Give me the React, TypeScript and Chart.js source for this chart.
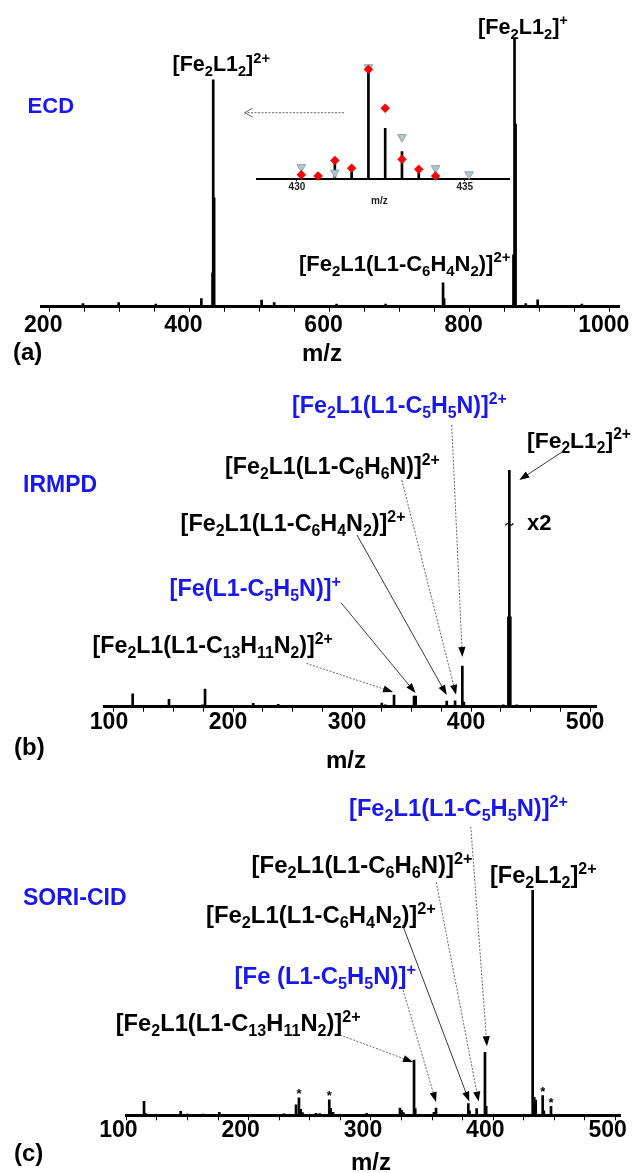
import React, { useEffect, useRef } from 'react';
import { Chart, registerables } from 'chart.js';

Chart.register(...registerables);

const W = 633;
const H = 1173;
const FONT = '"Liberation Sans", Arial, Helvetica, sans-serif';
const BLUE = '#1818ee';
const BLACK = '#000000';
Chart.defaults.font.family = FONT;

// ---------------- (a) ECD spectrum ----------------
const ecdMz = [248, 299, 352, 417, 433, 434, 435.3, 503, 521, 610, 680, 762, 763.5, 862.5, 864, 865.5, 880, 897, 960];
const ecdInt = [1.2, 1.5, 1.0, 3.0, 12.6, 84.4, 40.5, 2.5, 1.5, 1.0, 1.0, 8.9, 3.0, 19.3, 100, 68, 1.2, 2.6, 1.0];

// inset: isotope pattern of [Fe2L1_2]2+
const insetMz = [430.63, 431.13, 431.63, 432.13, 432.63, 433.13, 433.63, 434.13];
const insetInt = [1, 17, 11, 100, 46, 25, 6, 3];
const insetDiamondMz = [430.13, 430.63, 431.13, 431.63, 432.13, 432.63, 433.13, 433.63, 434.13];
const insetDiamondInt = [4, 3, 17, 10, 99, 64, 18, 9, 3];
const insetTriangleMz = [430.13, 431.13, 432.13, 433.13, 434.13, 435.13];
const insetTriangleInt = [11, 6, 101, 38, 10, 4.5];

// ---------------- (b) IRMPD spectrum ----------------
const irmpdMz = [95, 115.7, 131, 146.2, 160, 174.5, 176.5, 197, 217, 238, 264, 290, 323, 325, 328, 335.3, 340, 344, 352.1, 353.5, 368, 379.6, 386.6, 392.7, 394, 410, 420, 427, 431.4, 432.2, 433.0, 438.4, 455, 478, 497];
const irmpdInt = [0.5, 5.4, 0.5, 3.1, 0.4, 0.8, 7.4, 0.4, 1.4, 1.0, 0.4, 0.4, 0.6, 1.5, 0.8, 4.9, 0.6, 0.6, 4.5, 4.5, 0.5, 2.4, 2.5, 17.2, 2.0, 0.4, 0.4, 0.8, 38, 100, 38, 0.8, 0.4, 0.4, 0.5];
const irmpdBreakInt = 77;

// ---------------- (c) SORI-CID spectrum ----------------
const soriMz = [114.4, 115.8, 144.4, 150, 163, 176, 229, 238.7, 241.1, 242.5, 244, 255, 258, 265.9, 267, 269, 296.5, 310, 323.7, 325, 326.5, 335.2, 336.2, 351.5, 353.2, 379.6, 380.6, 386.4, 393.2, 394.2, 432.2, 433.5, 434.7, 440.4, 441.4, 447.2];
const soriInt = [6.2, 0.8, 1.8, 0.5, 0.5, 1.3, 0.6, 4.7, 7.7, 2.7, 1.2, 0.9, 0.8, 6.9, 3.1, 1.3, 0.9, 0.4, 3.2, 2.2, 1.2, 24.5, 3, 1.3, 3.2, 5.2, 2, 3.0, 28, 4, 100, 8, 6.8, 8.7, 2, 4.0];
const soriStarMz = [241.1, 265.9, 440.4, 447.2];

// ---------------- annotation layout ----------------
type Label = { text: string; x: number; y: number; w?: number; size?: number; color?: string };
type Arrow = { mz?: number; to?: [number, number]; from: [number, number]; dx?: number; dy?: number; dash: boolean; open?: boolean };

const ecdLabels: Label[] = [
  { text: 'ECD', x: 27.6, y: 113, size: 22, color: BLUE },
  { text: '[Fe_{2}L1_{2}]^{2+}', x: 172.5, y: 70.5, w: 97.5 },
  { text: '[Fe_{2}L1_{2}]^{+}', x: 478, y: 33.5, w: 90 },
  { text: '[Fe_{2}L1(L1-C_{6}H_{4}N_{2})]^{2+}', x: 299, y: 270.5, w: 211.6 },
  { text: '(a)', x: 13, y: 360, size: 24 },
  { text: 'm/z', x: 302, y: 361, size: 24 },
];
const ecdArrows: Arrow[] = [{ from: [344, 112.7], to: [244.7, 112.7], dash: true, open: true }];
const insetLabels: Label[] = [{ text: 'm/z', x: 371, y: 203.5, size: 10, color: '#222' }];

const irmpdLabels: Label[] = [
  { text: 'IRMPD', x: 23, y: 492, size: 23, color: BLUE },
  { text: '[Fe_{2}L1(L1-C_{5}H_{5}N)]^{2+}', x: 292, y: 412.5, w: 215, color: BLUE },
  { text: '[Fe_{2}L1(L1-C_{6}H_{6}N)]^{2+}', x: 225, y: 473.5, w: 215 },
  { text: '[Fe_{2}L1_{2}]^{2+}', x: 527, y: 447.5, w: 104 },
  { text: 'x2', x: 527, y: 530, size: 22 },
  { text: '[Fe_{2}L1(L1-C_{6}H_{4}N_{2})]^{2+}', x: 180.6, y: 530.5, w: 225 },
  { text: '[Fe(L1-C_{5}H_{5}N)]^{+}', x: 169.6, y: 595.5, w: 171.4, color: BLUE },
  { text: '[Fe_{2}L1(L1-C_{13}H_{11}N_{2})]^{2+}', x: 92.5, y: 652.5, w: 240.5 },
  { text: '(b)', x: 14, y: 755, size: 24 },
  { text: 'm/z', x: 326, y: 768, size: 24 },
];
const irmpdArrows: Arrow[] = [
  { mz: 335.3, from: [306.4, 663.3], dx: -1, dy: -3, dash: true },
  { mz: 352.1, from: [341, 602.7], dx: 1.5, dy: -3, dash: false },
  { mz: 379.6, from: [357, 535], dx: 0, dy: -6, dash: false },
  { mz: 386.6, from: [401.8, 480], dx: 1, dy: -6, dash: true },
  { mz: 392.7, from: [451.7, 425], dx: 0, dy: -9, dash: true },
  { mz: 432.2, from: [562, 452], dx: 10, dy: 10, dash: false },
];

const soriLabels: Label[] = [
  { text: 'SORI-CID', x: 23, y: 905, size: 23, color: BLUE },
  { text: '[Fe_{2}L1(L1-C_{5}H_{5}N)]^{2+}', x: 349, y: 815.5, w: 219, color: BLUE },
  { text: '[Fe_{2}L1(L1-C_{6}H_{6}N)]^{2+}', x: 251.6, y: 872.5, w: 221 },
  { text: '[Fe_{2}L1_{2}]^{2+}', x: 490, y: 882.5, w: 106.6 },
  { text: '[Fe_{2}L1(L1-C_{6}H_{4}N_{2})]^{2+}', x: 206, y: 922.5, w: 230 },
  { text: '[Fe (L1-C_{5}H_{5}N)]^{+}', x: 234.6, y: 983.5, w: 181.4, color: BLUE },
  { text: '[Fe_{2}L1(L1-C_{13}H_{11}N_{2})]^{2+}', x: 115.7, y: 1030.5, w: 245 },
  { text: '(c)', x: 14, y: 1161, size: 24 },
  { text: 'm/z', x: 351, y: 1170, size: 24 },
];
const soriArrows: Arrow[] = [
  { mz: 393.2, from: [470.8, 826.7], dx: 2, dy: -6, dash: true },
  { mz: 386.4, from: [436.3, 882.3], dx: 2, dy: -7, dash: true },
  { mz: 379.6, from: [402.6, 925], dx: 1, dy: -2, dash: false },
  { mz: 353.2, from: [403, 990], dx: 0, dy: -6, dash: true },
  { mz: 335.2, from: [340, 1035], dx: -1, dy: 2, dash: true },
];

// ---------------- helpers ----------------
type Seg = { t: string; k: number };
const SUBSCALE = 0.68;
const bold = (s: number) => `bold ${s}px ${FONT}`;

function parseRich(s: string): Seg[] {
  const out: Seg[] = [];
  let buf = '';
  let i = 0;
  while (i < s.length) {
    const c = s[i];
    if ((c === '_' || c === '^') && s[i + 1] === '{') {
      if (buf) { out.push({ t: buf, k: 0 }); buf = ''; }
      const end = s.indexOf('}', i);
      out.push({ t: s.slice(i + 2, end), k: c === '_' ? 1 : 2 });
      i = end + 1;
    } else {
      buf += c;
      i++;
    }
  }
  if (buf) out.push({ t: buf, k: 0 });
  return out;
}

function richWidth(ctx: CanvasRenderingContext2D, segs: Seg[], size: number) {
  let w = 0;
  for (const s of segs) {
    ctx.font = bold(s.k ? size * SUBSCALE : size);
    w += ctx.measureText(s.t).width;
  }
  return w;
}

function drawLabel(ctx: CanvasRenderingContext2D, l: Label) {
  const segs = parseRich(l.text);
  let size = l.size ?? 20;
  if (l.w) size = (20 * l.w) / richWidth(ctx, segs, 20);
  ctx.save();
  ctx.fillStyle = l.color ?? BLACK;
  ctx.textBaseline = 'alphabetic';
  ctx.textAlign = 'left';
  let cx = l.x;
  for (const s of segs) {
    const sz = s.k ? size * SUBSCALE : size;
    ctx.font = bold(sz);
    const dy = s.k === 1 ? size * 0.25 : s.k === 2 ? -size * 0.37 : 0;
    ctx.fillText(s.t, cx, l.y + dy);
    cx += ctx.measureText(s.t).width;
  }
  ctx.restore();
}

function drawArrow(ctx: CanvasRenderingContext2D, x1: number, y1: number, x2: number, y2: number, dash: boolean, open?: boolean) {
  const ang = Math.atan2(y2 - y1, x2 - x1);
  const L = open ? 8 : 10;
  const hw = open ? 4.5 : 3.6;
  const ux = Math.cos(ang), uy = Math.sin(ang);
  const px = -uy, py = ux;
  const hx = x2 - ux * L, hy = y2 - uy * L;
  ctx.save();
  ctx.strokeStyle = dash ? '#555' : '#222';
  ctx.lineWidth = 0.9;
  ctx.setLineDash(dash ? [2, 1.5] : []);
  ctx.beginPath();
  ctx.moveTo(x1, y1);
  if (open) ctx.lineTo(x2, y2); else ctx.lineTo(hx + ux * 2, hy + uy * 2);
  ctx.stroke();
  ctx.setLineDash([]);
  if (open) {
    ctx.beginPath();
    ctx.moveTo(hx + px * hw, hy + py * hw);
    ctx.lineTo(x2, y2);
    ctx.lineTo(hx - px * hw, hy - py * hw);
    ctx.stroke();
  } else {
    ctx.fillStyle = '#000';
    ctx.beginPath();
    ctx.moveTo(x2, y2);
    ctx.lineTo(hx + px * hw, hy + py * hw);
    ctx.lineTo(hx - px * hw, hy - py * hw);
    ctx.closePath();
    ctx.fill();
  }
  ctx.restore();
}

function heightAt(mzs: number[], ints: number[], mz: number) {
  let best = 0;
  for (let i = 1; i < mzs.length; i++) if (Math.abs(mzs[i] - mz) < Math.abs(mzs[best] - mz)) best = i;
  return ints[best];
}

function annotator(labels: Label[], arrows: Arrow[], mzs: number[], ints: number[], extra?: (c: any) => void) {
  return {
    id: 'annotator',
    afterDraw(chart: any) {
      const ctx: CanvasRenderingContext2D = chart.ctx;
      const xs = chart.scales.x;
      const ys = chart.scales.y;
      for (const a of arrows) {
        let tx: number, ty: number;
        if (a.mz !== undefined) {
          tx = xs.getPixelForValue(a.mz) + (a.dx ?? 0);
          ty = ys.getPixelForValue(heightAt(mzs, ints, a.mz)) + (a.dy ?? 0);
        } else {
          tx = a.to![0];
          ty = a.to![1];
        }
        drawArrow(ctx, a.from[0], a.from[1], tx, ty, a.dash, a.open);
      }
      for (const l of labels) drawLabel(ctx, l);
      if (extra) extra(chart);
    },
  };
}

const pts = (xs: number[], ys: number[]) => xs.map((x, i) => ({ x, y: ys[i] }));

type Panel = {
  area: { left: number; right: number; top: number; bottom: number };
  min: number; max: number; step: number; labelEvery: number;
  labelOffset: number; tickPad: number; tickSize: number; tickLen: number;
  border: number; axisH: number; tickColor: string;
  datasets: any[]; plugin: any;
};

const isMultiple = (v: number, step: number) => Math.abs(v / step - Math.round(v / step)) < 1e-6;

function spectrumChart(canvas: HTMLCanvasElement, p: Panel) {
  return new Chart(canvas, {
    type: 'bar',
    data: { datasets: p.datasets },
    options: {
      animation: false,
      responsive: false,
      devicePixelRatio: 1,
      events: [],
      layout: {
        padding: { left: p.area.left, right: W - p.area.right, top: p.area.top, bottom: H - p.area.bottom - p.axisH },
      },
      plugins: { legend: { display: false }, tooltip: { enabled: false } },
      scales: {
        x: {
          type: 'linear',
          min: p.min,
          max: p.max,
          bounds: 'ticks',
          offset: false,
          afterBuildTicks: (s: any) => {
            const t: { value: number }[] = [];
            for (let v = Math.ceil(s.min / p.step) * p.step; v <= s.max + 1e-9; v += p.step) t.push({ value: Math.round(v * 1000) / 1000 });
            s.ticks = t;
          },
          afterFit: (s: any) => { s.height = p.axisH; s.paddingLeft = 0; s.paddingRight = 0; },
          border: { display: true, color: '#000', width: p.border },
          grid: { display: true, drawOnChartArea: false, drawTicks: true, tickLength: p.tickLen, tickWidth: 1, tickColor: '#000', offset: false },
          ticks: {
            stepSize: p.step,
            includeBounds: true,
            autoSkip: false,
            maxRotation: 0,
            minRotation: 0,
            maxTicksLimit: 1000,
            labelOffset: p.labelOffset,
            padding: p.tickPad,
            color: p.tickColor,
            font: { family: FONT, size: p.tickSize, weight: 'bold' },
            callback: (v: any) => (isMultiple(Number(v), p.labelEvery) ? String(Math.round(Number(v))) : ''),
          },
        } as any,
        y: { display: false, min: 0, max: 100 },
      },
    } as any,
    plugins: [p.plugin],
  });
}

const barSet = (xs: number[], ys: number[]) => ({
  type: 'bar',
  data: pts(xs, ys),
  backgroundColor: '#000',
  borderWidth: 0,
  barThickness: 2,
  grouped: false,
});

export default function App() {
  const ra = useRef<HTMLCanvasElement>(null);
  const ri = useRef<HTMLCanvasElement>(null);
  const rb = useRef<HTMLCanvasElement>(null);
  const rc = useRef<HTMLCanvasElement>(null);

  useEffect(() => {
    const charts: Chart[] = [];
    charts.push(spectrumChart(ra.current!, {
      area: { left: 41.7, right: 619.7, top: 38, bottom: 306.7 },
      min: 189.2, max: 1014.1, step: 50, labelEvery: 200,
      labelOffset: -6, tickPad: 0, tickSize: 23, tickLen: 5, border: 3, axisH: 40, tickColor: '#000',
      datasets: [barSet(ecdMz, ecdInt)],
      plugin: annotator(ecdLabels, ecdArrows, ecdMz, ecdInt),
    }));
    charts.push(spectrumChart(ri.current!, {
      area: { left: 257, right: 509.7, top: 68.3, bottom: 179.3 },
      min: 428.81, max: 436.34, step: 5, labelEvery: 5,
      labelOffset: 0, tickPad: 0, tickSize: 10, tickLen: 2, border: 2, axisH: 20, tickColor: '#222',
      datasets: [
        { type: 'scatter', data: pts(insetDiamondMz, insetDiamondInt), pointStyle: 'rectRot', pointRadius: 4.5, backgroundColor: '#ff0000', borderColor: '#e00000', borderWidth: 0.5, clip: false },
        { type: 'scatter', data: pts(insetTriangleMz, insetTriangleInt), pointStyle: 'triangle', rotation: 180, pointRotation: 180, pointRadius: 5, backgroundColor: '#b3c6cc', borderColor: '#8ea6ae', borderWidth: 1, clip: false },
        barSet(insetMz, insetInt),
      ],
      plugin: annotator(insetLabels, [], insetMz, insetInt),
    }));
    charts.push(spectrumChart(rb.current!, {
      area: { left: 104, right: 596.7, top: 470, bottom: 706.7 },
      min: 91.6, max: 505.6, step: 25, labelEvery: 100,
      labelOffset: -5, tickPad: -3, tickSize: 23, tickLen: 5, border: 3, axisH: 40, tickColor: '#000',
      datasets: [barSet(irmpdMz, irmpdInt)],
      plugin: annotator(irmpdLabels, irmpdArrows, irmpdMz, irmpdInt, (chart: any) => {
        const ctx: CanvasRenderingContext2D = chart.ctx;
        const x = chart.scales.x.getPixelForValue(432.2);
        const y = chart.scales.y.getPixelForValue(irmpdBreakInt);
        ctx.save();
        ctx.strokeStyle = '#000';
        ctx.lineWidth = 1.2;
        ctx.beginPath();
        ctx.moveTo(x - 4, y + 1);
        ctx.quadraticCurveTo(x - 2, y - 2, x, y);
        ctx.quadraticCurveTo(x + 2, y + 2, x + 4, y - 1);
        ctx.stroke();
        ctx.restore();
      }),
    }));
    charts.push(spectrumChart(rc.current!, {
      area: { left: 126, right: 620.7, top: 890, bottom: 1115.3 },
      min: 99.67, max: 504.2, step: 25, labelEvery: 100,
      labelOffset: -8, tickPad: -3, tickSize: 23, tickLen: 5, border: 3, axisH: 40, tickColor: '#000',
      datasets: [barSet(soriMz, soriInt)],
      plugin: annotator(soriLabels, soriArrows, soriMz, soriInt, (chart: any) => {
        const ctx: CanvasRenderingContext2D = chart.ctx;
        ctx.save();
        ctx.fillStyle = '#000';
        ctx.font = bold(13);
        ctx.textAlign = 'center';
        ctx.textBaseline = 'alphabetic';
        for (const m of soriStarMz) {
          const x = chart.scales.x.getPixelForValue(m);
          const y = chart.scales.y.getPixelForValue(heightAt(soriMz, soriInt, m));
          ctx.fillText('*', x, y + 0.5);
        }
        ctx.restore();
      }),
    }));
    return () => charts.forEach((c) => c.destroy());
  }, []);

  const cs: React.CSSProperties = { position: 'absolute', left: 0, top: 0 };
  return (
    <div style={{ position: 'absolute', left: 0, top: 0, width: W, height: H, background: '#fff' }}>
      <canvas ref={ra} width={W} height={H} style={cs} />
      <canvas ref={ri} width={W} height={H} style={cs} />
      <canvas ref={rb} width={W} height={H} style={cs} />
      <canvas ref={rc} width={W} height={H} style={cs} />
    </div>
  );
}
